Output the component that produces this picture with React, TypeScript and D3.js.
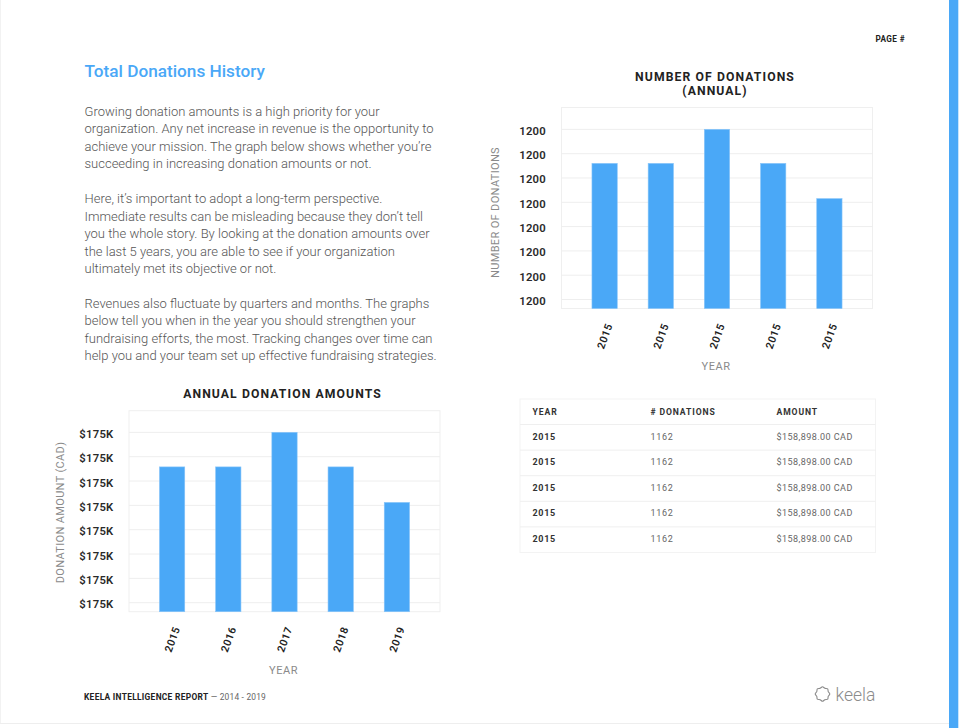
import React from 'react';
import * as d3 from 'd3';

// ---------- data ----------
const countYears = ['2015', '2015', '2015', '2015', '2015'];
const donationCounts = [1186, 1186, 1200, 1186, 1171.5];
const countTicks = [1130, 1140, 1150, 1160, 1170, 1180, 1190, 1200];
const countTickLabels = ['1200', '1200', '1200', '1200', '1200', '1200', '1200', '1200'];
const countDomain = [1126.3, 1209];

const amountYears = ['2015', '2016', '2017', '2018', '2019'];
const donationAmounts = [167900, 167900, 175000, 167900, 160600];
const amountTicks = [140000, 145000, 150000, 155000, 160000, 165000, 170000, 175000];
const amountTickLabels = ['$175K', '$175K', '$175K', '$175K', '$175K', '$175K', '$175K', '$175K'];
const amountDomain = [138150, 179450];

const tableHeaders = ['YEAR', '# DONATIONS', 'AMOUNT'];
const tableYears = ['2015', '2015', '2015', '2015', '2015'];
const tableCounts = ['1162', '1162', '1162', '1162', '1162'];
const tableAmounts = ['$158,898.00 CAD', '$158,898.00 CAD', '$158,898.00 CAD', '$158,898.00 CAD', '$158,898.00 CAD'];

const paragraphs = [
  [
    'Growing donation amounts is a high priority for your',
    'organization. Any net increase in revenue is the opportunity to',
    'achieve your mission. The graph below shows whether you\u2019re',
    'succeeding in increasing donation amounts or not.',
  ],
  [
    'Here, it\u2019s important to adopt a long-term perspective.',
    'Immediate results can be misleading because they don\u2019t tell',
    'you the whole story. By looking at the donation amounts over',
    'the last 5 years, you are able to see if your organization',
    'ultimately met its objective or not.',
  ],
  [
    'Revenues also fluctuate by quarters and months. The graphs',
    'below tell you when in the year you should strengthen your',
    'fundraising efforts, the most. Tracking changes over time can',
    'help you and your team set up effective fundraising strategies.',
  ],
];

const BLUE = '#4aa8f7';
const FONT = 'Roboto, "Noto Sans", sans-serif';

type ChartProps = {
  x0: number; x1: number; y0: number; y1: number;
  cats: string[]; values: number[]; domain: number[];
  ticks: number[]; tickLabels: string[];
  title: string[]; titleY: number;
  yTitle: string; yTitleX: number; yTitleY: number;
  xTitleY: number;
};

function BarChart(p: ChartProps) {
  const idx = p.cats.map((_, i) => String(i));
  const x = d3.scaleBand<string>().domain(idx).range([p.x0, p.x1]).paddingInner(0.55).paddingOuter(0.542);
  const y = d3.scaleLinear().domain(p.domain).range([p.y1, p.y0]);
  const cx = (p.x0 + p.x1) / 2;
  return (
    <g>
      {p.title.map((t, i) => (
        <text key={i} x={cx - 2} y={p.titleY + i * 14} textAnchor="middle" fontFamily={FONT} fontWeight={700}
          fontSize={12.2} letterSpacing={1.1} fill="#222">{t}</text>
      ))}
      <rect x={p.x0} y={p.y0} width={p.x1 - p.x0} height={p.y1 - p.y0} fill="none" stroke="#efefef" strokeWidth={1} />
      {p.ticks.map((t, i) => (
        <g key={i}>
          <line x1={p.x0} x2={p.x1} y1={y(t)} y2={y(t)} stroke="#eeeeee" strokeWidth={1} />
          <text x={p.x0 - 15.5} y={y(t) + 2.5} textAnchor="end" dominantBaseline="middle" fontFamily={FONT}
            fontWeight={600} fontSize={11.3} letterSpacing={0.25} fill="#2a2a2a">{p.tickLabels[i]}</text>
        </g>
      ))}
      {p.values.map((v, i) => (
        <rect key={i} x={x(String(i))} y={y(v)} width={x.bandwidth()} height={y(p.domain[0]) - y(v)}
          fill={BLUE} stroke="#86c4f9" strokeWidth={0.6} />
      ))}
      {p.cats.map((c, i) => (
        <text key={i} transform={`translate(${(x(String(i)) as number) + x.bandwidth() / 2 + 1},${p.y1 + 28}) rotate(-70)`}
          textAnchor="middle" dominantBaseline="middle" fontFamily={FONT} fontWeight={600} fontSize={10.6}
          letterSpacing={0.5} fill="#222">{c}</text>
      ))}
      <text transform={`translate(${p.yTitleX},${p.yTitleY}) rotate(-90)`} textAnchor="middle" dominantBaseline="middle"
        fontFamily={FONT} fontSize={11} letterSpacing={0.35} fill="#8a8a8a">{p.yTitle}</text>
      <text x={cx - 1} y={p.xTitleY} textAnchor="middle" dominantBaseline="middle" fontFamily={FONT} fontSize={11}
        letterSpacing={0.5} fill="#8a8a8a">YEAR</text>
    </g>
  );
}

function Table() {
  const left = 520, right = 875.5, top = 399, headH = 25.5, rowH = 25.6;
  const cols = [532.5, 650.5, 776.5];
  return (
    <g fontFamily={FONT}>
      <rect x={left} y={top} width={right - left} height={headH + rowH * tableYears.length} fill="none" stroke="#f3f3f3" />
      {tableHeaders.map((h, i) => (
        <text key={i} x={cols[i]} y={top + headH / 2 + 0.5} dominantBaseline="middle" fontSize={8.6} fontWeight={700}
          letterSpacing={0.9} fill="#333">{h}</text>
      ))}
      {tableYears.map((yr, r) => {
        const ry = top + headH + r * rowH;
        return (
          <g key={r}>
            <line x1={left} x2={right} y1={ry} y2={ry} stroke="#efefef" />
            <text x={cols[0]} y={ry + rowH / 2} dominantBaseline="middle" fontSize={9} fontWeight={700}
              letterSpacing={0.7} fill="#333">{yr}</text>
            <text x={cols[1]} y={ry + rowH / 2} dominantBaseline="middle" fontSize={9}
              letterSpacing={0.7} fill="#666">{tableCounts[r]}</text>
            <text x={cols[2]} y={ry + rowH / 2} dominantBaseline="middle" fontSize={9}
              letterSpacing={0.45} fill="#666">{tableAmounts[r]}</text>
          </g>
        );
      })}
    </g>
  );
}

function KeelaLogo() {
  const pts: [number, number][] = [];
  const n = 16;
  for (let i = 0; i < n; i++) pts.push([(i / n) * Math.PI * 2, i % 2 === 0 ? 7.3 : 6.2]);
  const path = d3.lineRadial().curve(d3.curveCardinalClosed)(pts) as string;
  return (
    <g>
      <path d={path} transform="translate(822.5,694)" fill="none" stroke="#8a8a8a" strokeWidth={1.1} />
      <text x={835.5} y={700.5} fontFamily={FONT} fontWeight={300} fontSize={17.5} fill="#8c8c8c">keela</text>
    </g>
  );
}

export default function App() {
  let lineNo = 0;
  const baseY = 116, lh = 17.45;
  return (
    <svg width={960} height={728} style={{ position: 'absolute', left: 0, top: 0, background: '#fff' }}>
      <rect x={0} y={0} width={960} height={728} fill="#fff" />
      <line x1={0.5} x2={0.5} y1={0} y2={723} stroke="#f2f2f2" />
      <line x1={0} x2={949} y1={723.5} y2={723.5} stroke="#eeeeee" />
      <rect x={949} y={0} width={9.3} height={728} fill={BLUE} />

      <text x={875.5} y={42} fontFamily={FONT} fontWeight={700} fontSize={8.2} letterSpacing={0.4} fill="#222">PAGE #</text>

      <text x={84.5} y={76.7} fontFamily={FONT} fontWeight={500} fontSize={17.2} fill={BLUE}>Total Donations History</text>

      {paragraphs.map((para, pi) => {
        const els = para.map((ln, li) => {
          const yy = baseY + lineNo * lh;
          lineNo++;
          return <text key={`${pi}-${li}`} x={84.5} y={yy} fontFamily={FONT} fontWeight={300} fontSize={13} fill="#555">{ln}</text>;
        });
        lineNo++;
        return <g key={pi}>{els}</g>;
      })}

      <BarChart x0={561.5} x1={872.5} y0={107.5} y1={308.5} cats={countYears} values={donationCounts}
        domain={countDomain} ticks={countTicks} tickLabels={countTickLabels}
        title={['NUMBER OF DONATIONS', '(ANNUAL)']} titleY={81} yTitle="NUMBER OF DONATIONS"
        yTitleX={496} yTitleY={212.5} xTitleY={367.5} />

      <BarChart x0={129} x1={440} y0={410.7} y1={611.7} cats={amountYears} values={donationAmounts}
        domain={amountDomain} ticks={amountTicks} tickLabels={amountTickLabels}
        title={['ANNUAL DONATION AMOUNTS']} titleY={397.5} yTitle="DONATION AMOUNT (CAD)"
        yTitleX={61.5} yTitleY={512.5} xTitleY={671} />

      <Table />

      <text x={84} y={699.5} fontFamily={FONT} fontSize={8.4} fill="#222">
        <tspan fontWeight={700} letterSpacing={0.3}>KEELA INTELLIGENCE REPORT</tspan>
        <tspan fill="#666" letterSpacing={0.2}> {'\u2014'} 2014 - 2019</tspan>
      </text>

      <KeelaLogo />
    </svg>
  );
}
